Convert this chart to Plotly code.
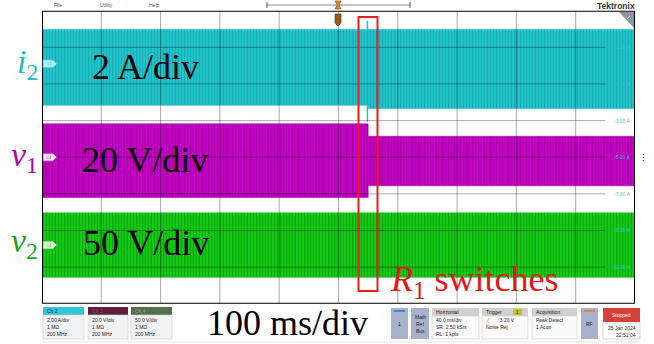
import plotly.graph_objects as go

W, H = 654, 344

# ---------------- data ----------------
time_ms = [0, 220, 400]          # start, R1 switching instant, end (40 ms/div)
spike_t_ms = 219.5               # i2 transient at switching
i2_hi_A = [1.98, 1.98]           # i2 envelope upper (before, after) [A]
i2_lo_A = [-2.16, -2.34]         # i2 envelope lower (before, after) [A]
i2_spike_A = [2.46, -3.07]       # transient extremes [A]
i2_offset_A = -5.0               # value at screen centre
i2_scale = 2.0                   # A/div
v1_hi_div = [0.91, 0.57]         # v1 envelope (screen divisions)
v1_lo_div = [-1.10, -0.78]
v2_hi_div = [-1.52, -1.52]       # v2 envelope (screen divisions)
v2_lo_div = [-3.28, -3.28]
ch_marker_div = [2.55, 0.0, -2.4]
ch_names = ["C2", "C3", "C4"]
grid_labels_div = [3, 2, 1, 0, -1, -2, -3]

CYAN, CYAN_D = "#22c3cb", "#17abb3"
MAG, MAG_D = "#c400c4", "#a300a3"
GRN, GRN_D = "#16c816", "#0aa80a"

def i2div(a):
    return (a - i2_offset_A) / i2_scale

def band(hi, lo):
    t0, ts, t1 = time_ms
    xs = [t0, ts, ts, t1, t1, ts, ts, t0, t0]
    ys = [hi[0], hi[0], hi[1], hi[1], lo[1], lo[1], lo[0], lo[0], hi[0]]
    return xs, ys

fig = go.Figure()

def add_band(hi, lo, col, dcol, name):
    xs, ys = band(hi, lo)
    fig.add_trace(go.Scatter(
        x=xs, y=ys, mode="lines", fill="toself", name=name,
        line=dict(width=0.6, color=col), fillcolor=col,
        fillpattern=dict(shape="|", fgcolor=dcol, bgcolor=col, size=3,
                         solidity=0.35, fillmode="replace"),
        hoverinfo="skip", showlegend=False))

add_band([i2div(v) for v in i2_hi_A], [i2div(v) for v in i2_lo_A], CYAN, CYAN_D, "i2")
add_band(v1_hi_div, v1_lo_div, MAG, MAG_D, "v1")
add_band(v2_hi_div, v2_lo_div, GRN, GRN_D, "v2")
# i2 transient spikes
fig.add_trace(go.Scatter(
    x=[spike_t_ms, spike_t_ms, None, spike_t_ms, spike_t_ms],
    y=[i2div(i2_hi_A[0]), i2div(i2_spike_A[0]), None,
       i2div(i2_lo_A[0]), i2div(i2_spike_A[1])],
    mode="lines", line=dict(color=CYAN, width=1.5), hoverinfo="skip",
    showlegend=False))

x0p, x1p = 42, 635
y0p, y1p = 10.7, 303.7
fig.update_layout(
    width=W, height=H, margin=dict(l=0, r=0, t=0, b=0),
    paper_bgcolor="white", plot_bgcolor="white",
    xaxis=dict(range=[0, 400], domain=[x0p / W, x1p / W], visible=False,
               fixedrange=True),
    yaxis=dict(range=[-4, 4], domain=[1 - y1p / H, 1 - y0p / H],
               visible=False, fixedrange=True),
)

shapes = []
# graticule (drawn above the traces)
GC = "rgba(0,0,0,0.33)"
for k in range(1, 10):
    shapes.append(dict(type="line", xref="x", yref="y", x0=k * 40, x1=k * 40,
                       y0=-4, y1=4, line=dict(color=GC, width=1), layer="above"))
for g in grid_labels_div:
    shapes.append(dict(type="line", xref="x", yref="y", x0=0, x1=380,
                       y0=g, y1=g, line=dict(color=GC, width=1), layer="above"))
shapes.append(dict(type="rect", xref="x", yref="y", x0=0, x1=400, y0=-4, y1=4,
                   line=dict(color="black", width=2), layer="above"))

def P(x, y):
    return x / W, 1 - y / H

def rect(x0, y0, x1, y1, fill, line="rgba(0,0,0,0)", lw=0.8):
    a, b = P(x0, y0)
    c, d = P(x1, y1)
    shapes.append(dict(type="rect", xref="paper", yref="paper", x0=a, y0=d,
                       x1=c, y1=b, fillcolor=fill, line=dict(color=line, width=lw),
                       layer="above"))

def pline(x0, y0, x1, y1, color, w=1):
    a, b = P(x0, y0)
    c, d = P(x1, y1)
    shapes.append(dict(type="line", xref="paper", yref="paper", x0=a, y0=b,
                       x1=c, y1=d, line=dict(color=color, width=w), layer="above"))

def ppath(pts, fill, line="rgba(0,0,0,0)", lw=0.8):
    s = "M " + " L ".join(f"{x / W},{1 - y / H}" for x, y in pts) + " Z"
    shapes.append(dict(type="path", xref="paper", yref="paper", path=s,
                       fillcolor=fill, line=dict(color=line, width=lw), layer="above"))

ann = []
def text(x, y, t, size=6, color="#333", xa="left", ya="middle",
         family="Liberation Sans"):
    a, b = P(x, y)
    ann.append(dict(x=a, y=b, xref="paper", yref="paper", text=t,
                    showarrow=False, xanchor=xa, yanchor=ya,
                    align=xa if xa != "center" else "center",
                    font=dict(size=size, color=color, family=family)))

def lines_text(x, y_first, items, size=5, color="#222", xa="left", step=7):
    for i, t in enumerate(items):
        text(x, y_first + i * step, t, size, color, xa)

# top menu + timeline
text(58, 5, "File", 5, "#555", "center")
text(106, 5, "Utility", 5, "#555", "center")
text(154, 5, "Help", 5, "#555", "center")
pline(267, 5, 410, 5, "#8a8a8a", 1.2)
pline(267, 2, 267, 8, "#555", 1)
pline(410, 2, 410, 8, "#555", 1)
ppath([(335, 1), (341, 1), (339, 5), (341, 9), (335, 9), (337, 5)], "#d88a2a", "#7a4a10", 0.6)
text(637, 6, "<b>Tektronix</b>", 8.5, "#333", "right")
# trigger marker on graticule top
ppath([(335, 14), (341, 14), (341, 23), (338, 26), (335, 23)], "#9a5a1a", "#5a3008", 0.6)
# magnifier corner
ppath([(619, 12), (634, 12), (634, 28)], "#8d93a8")
pline(627, 19, 630, 16, "white", 1)
text(643, 158, "⋮", 9, "#222", "center")

# channel markers
mk_fill = ["#b8eef2", "#fbe8fb", "#e6f8dc"]
mk_col = [CYAN, MAG, GRN]
for yd, nm, f, c in zip(ch_marker_div, ch_names, mk_fill, mk_col):
    yc = (y0p + y1p) / 2 - yd * (y1p - y0p) / 8
    ppath([(43, yc - 4), (53, yc - 4), (57, yc), (53, yc + 4), (43, yc + 4)], f, c, 0.8)
    text(48.5, yc, nm, 4, c, "center")

# grid value labels (ch2 scale)
for g in grid_labels_div:
    yc = (y0p + y1p) / 2 - g * (y1p - y0p) / 8
    v = i2_offset_A + i2_scale * g
    text(633, yc, f"{v:.2f} A", 5, "#4bbcd2", "right")

# channel labels (left)
SERIF = "Liberation Serif"
text(40, 64, "<i>i</i><sub>2</sub>", 34, "#22bcc6", "right", family=SERIF)
text(40, 157, "<i>v</i><sub>1</sub>", 34, "#b000b0", "right", family=SERIF)
text(40, 243, "<i>v</i><sub>2</sub>", 34, "#16a816", "right", family=SERIF)
text(90, 67, "2 A/div", 36, "black", family=SERIF)
text(80, 160, "20 V/div", 36, "black", family=SERIF)
text(81, 243, "50 V/div", 36, "black", family=SERIF)
text(205, 323, "100 ms/div", 36, "black", family=SERIF)
text(388, 281, "<i>R</i><sub>1</sub> switches", 36, "#e01818", family=SERIF)

# red switching box (around the switching instant)
shapes.append(dict(type="rect", xref="x", yref="y", x0=time_ms[1] - 6.5,
                   x1=time_ms[1] + 6.3, y0=-3.65, y1=3.83,
                   line=dict(color="#e81c1c", width=2), layer="above"))

# bottom info bar
BODY = "#f2f2f2"
def chbox(x0, x1, head_col, head_txt, head_tc, items):
    rect(x0, 307, x1, 315, head_col)
    rect(x0, 315, x1, 339, BODY, "#cfcfcf", 0.6)
    text(x0 + 2, 311, head_txt, 5, head_tc)
    lines_text(x0 + 2, 320, items)

chbox(43, 84, "#33c6d8", "Ch 2", "#123", ["2.00 A/div", "1 MΩ", "200 MHz"])
chbox(88, 128, "#5e1e3e", "Ch 3", "#8a5070", ["20.0 V/div", "1 MΩ", "200 MHz"])
chbox(131, 172, "#556f4a", "Ch 4", "#8aa080", ["50.0 V/div", "1 MΩ", "200 MHz"])

BTN = "#a6b2cc"
rect(391, 308, 408, 339, BTN)
pline(394, 311, 405, 311, "#3a6fd8", 1.5)
text(399.5, 324, "1", 5, "#222", "center")
rect(411, 308, 429, 339, BTN)
lines_text(420, 317, ["Math", "Ref", "Bus"], xa="center")

def infobox(x0, x1, head, items):
    rect(x0, 308, x1, 316, "#d0d0d0")
    rect(x0, 316, x1, 339, "#fafafa", "#cfcfcf", 0.6)
    text(x0 + 2, 312, head, 5, "#222")
    lines_text(x0 + 2, 320, items)

infobox(432, 479, "Horizontal", ["40.0 ms/div", "SR: 2.50 kS/s", "RL: 1 kpts"])
infobox(482, 528, "Trigger", ["⟋       3.20 V", "Noise Rej"])
rect(513, 309, 522, 315, "#c9c21e")
text(517.5, 312, "1", 4.5, "#222", "center")
infobox(532, 577, "Acquisition", ["Peak Detect", "1 Acqs"])
rect(581, 308, 598, 339, BTN)
pline(584, 311, 595, 311, "#e07a30", 1.5)
text(589.5, 324, "RF", 5, "#222", "center")
rect(603, 308, 640, 322, "#d8403a")
text(621.5, 315, "Stopped", 5, "white", "center")
rect(603, 323, 640, 339, "white", "#bdbdbd", 0.6)
lines_text(638, 327.5, ["25 Jan 2024", "22:51:04"], xa="right")
pline(42, 342, 640, 342, "#e3e3e3", 1)

fig.update_layout(shapes=shapes, annotations=ann)
fig.write_html("out.html", config={"displayModeBar": False},
               post_script="document.body.style.margin='0';document.body.style.overflow='hidden';")
